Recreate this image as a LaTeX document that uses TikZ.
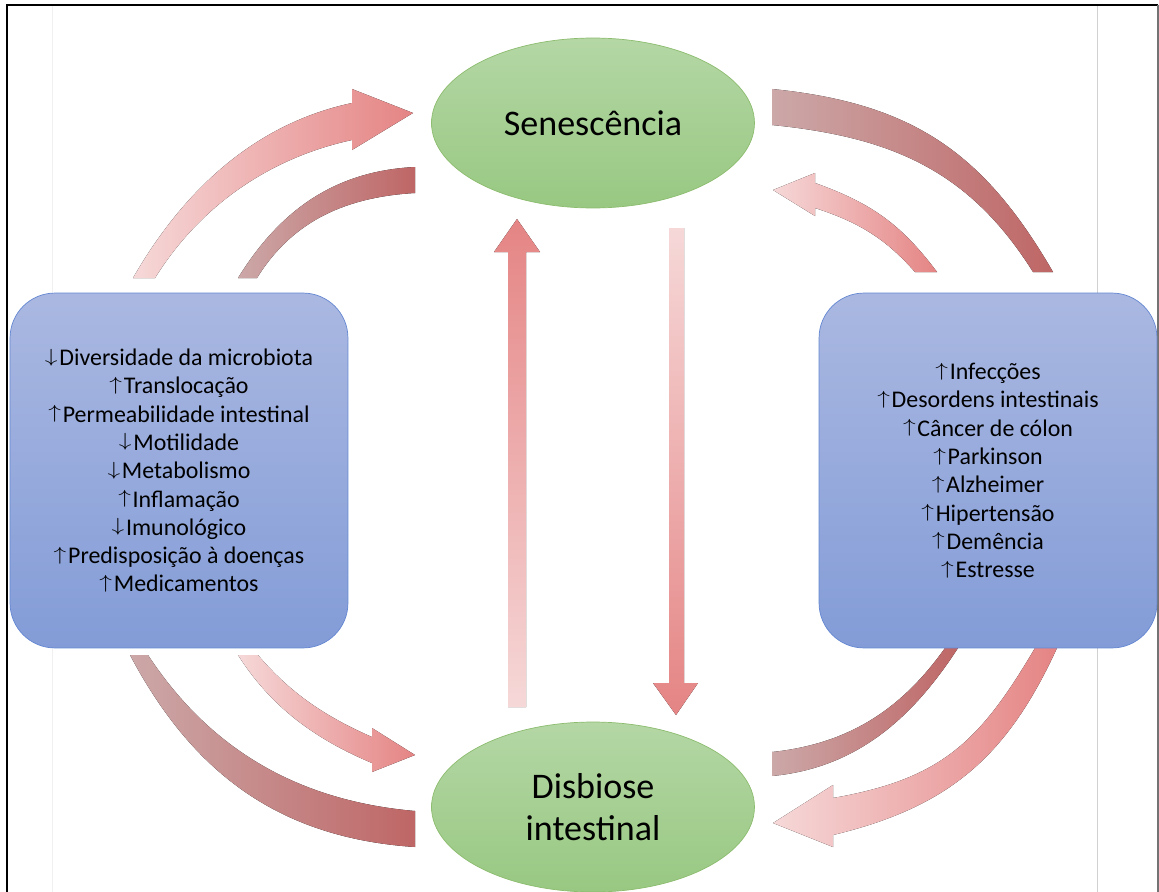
\documentclass[tikz,border=0pt]{standalone}
\usepackage{fontspec}
\usepackage{graphicx}
\setmainfont{Carlito}
\usetikzlibrary{shapes.geometric}
\definecolor{lightl}{RGB}{246,216,216}
\definecolor{lightr}{RGB}{229,132,132}
\definecolor{darkl}{RGB}{204,168,168}
\definecolor{darkr}{RGB}{191,102,102}
\definecolor{elltop}{RGB}{180,215,165}
\definecolor{ellbot}{RGB}{152,200,130}
\definecolor{elldraw}{RGB}{140,188,110}
\definecolor{boxtop}{RGB}{170,184,225}
\definecolor{boxbot}{RGB}{131,156,215}
\definecolor{boxdraw}{RGB}{100,135,210}
\newcommand{\arr}[1]{\raisebox{0.145em}{\scalebox{1}[0.75]{$#1$}}\kern1pt}
\newcommand{\up}{\arr{\uparrow}}
\newcommand{\down}{\arr{\downarrow}}
\begin{document}
\begin{tikzpicture}[x=0.02cm,y=-0.02cm,
	light/.style={left color=lightl,right color=lightr},
	dark/.style={left color=darkl,right color=darkr},
	state/.style={ellipse,draw=elldraw,top color=elltop,bottom color=ellbot,minimum width=6.46cm,minimum height=3.4cm,inner sep=0pt,align=center,font=\fontsize{20.5}{24}\selectfont},
	info/.style={rectangle,rounded corners=0.9cm,draw=boxdraw,top color=boxtop,bottom color=boxbot,minimum width=6.76cm,minimum height=7.1cm,align=center,font=\fontsize{13.6}{16.1}\selectfont}]
	\useasboundingbox (0,0) rectangle (1159,892);
	\draw[black!6] (52,5) -- (52,892);
	\draw[black!18] (1097,5) -- (1097,892);
	\draw[line width=1.1pt] (7,892) -- (7,5) -- (1158,5);
	\draw[line width=1.1pt,black!55] (1158,5) -- (1158,892);
	\fill[light] (133,278) .. controls (183,191) and (254,124) .. (352,103) -- (352,89) -- (413,113) -- (352,150) -- (352,140) .. controls (269,158) and (200,206) .. (155,278) -- cycle;
	\fill[dark] (238,278) .. controls (280,210) and (335,171) .. (415,167) -- (415,193) .. controls (347,197) and (293,220) .. (257,278) -- cycle;
	\fill[dark] (772,89) .. controls (911,103) and (983,151) .. (1053,272) -- (1033,272) .. controls (969,170) and (891,137) .. (772,125) -- cycle;
	\fill[light] (937,272) .. controls (901,224) and (871,203) .. (815,183) -- (815,173) -- (773,190) -- (815,216) -- (815,208) .. controls (858,222) and (885,238) .. (915,272) -- cycle;
	\fill[dark] (130,655) .. controls (193,774) and (280,838) .. (415,847) -- (415,811) .. controls (300,801) and (211,751) .. (148,655) -- cycle;
	\fill[light] (238,655) .. controls (271,707) and (315,739) .. (372,763) -- (372,772) -- (415,755) -- (372,728) -- (372,737) .. controls (326,717) and (290,693) .. (258,655) -- cycle;
	\fill[dark] (958,648) .. controls (912,719) and (856,768) .. (772,776) -- (772,752) .. controls (848,744) and (901,710) .. (945,648) -- cycle;
	\fill[light] (1057,648) .. controls (1007,757) and (949,807) .. (833,835) -- (833,847) -- (773,823) -- (833,785) -- (833,798) .. controls (941,779) and (979,743) .. (1035,648) -- cycle;
	\fill[bottom color=lightl,top color=lightr] (508,707) -- (508,252) -- (494,252) -- (517,219) -- (540,252) -- (526,252) -- (526,707) -- cycle;
	\fill[top color=lightl,bottom color=lightr] (669,228) -- (669,683) -- (653,683) -- (676,715) -- (698,683) -- (684,683) -- (684,228) -- cycle;
	\node[state] (sen) at (593,123) {Senescência};
	\node[state] (dis) at (593,807) {Disbiose\\intestinal};
	\node[info] (left) at (179,470.5) {\down Diversidade da microbiota\\\up Translocação\\\up Permeabilidade intestinal\\\down Motilidade\\\down Metabolismo\\\up Inflamação\\\down Imunológico\\\up Predisposição à doenças\\\up Medicamentos};
	\node[info] (right) at (988,470.5) {\up Infecções\\\up Desordens intestinais\\\up Câncer de cólon\\\up Parkinson\\\up Alzheimer\\\up Hipertensão\\\up Demência\\\up Estresse};
\end{tikzpicture}
\end{document}
